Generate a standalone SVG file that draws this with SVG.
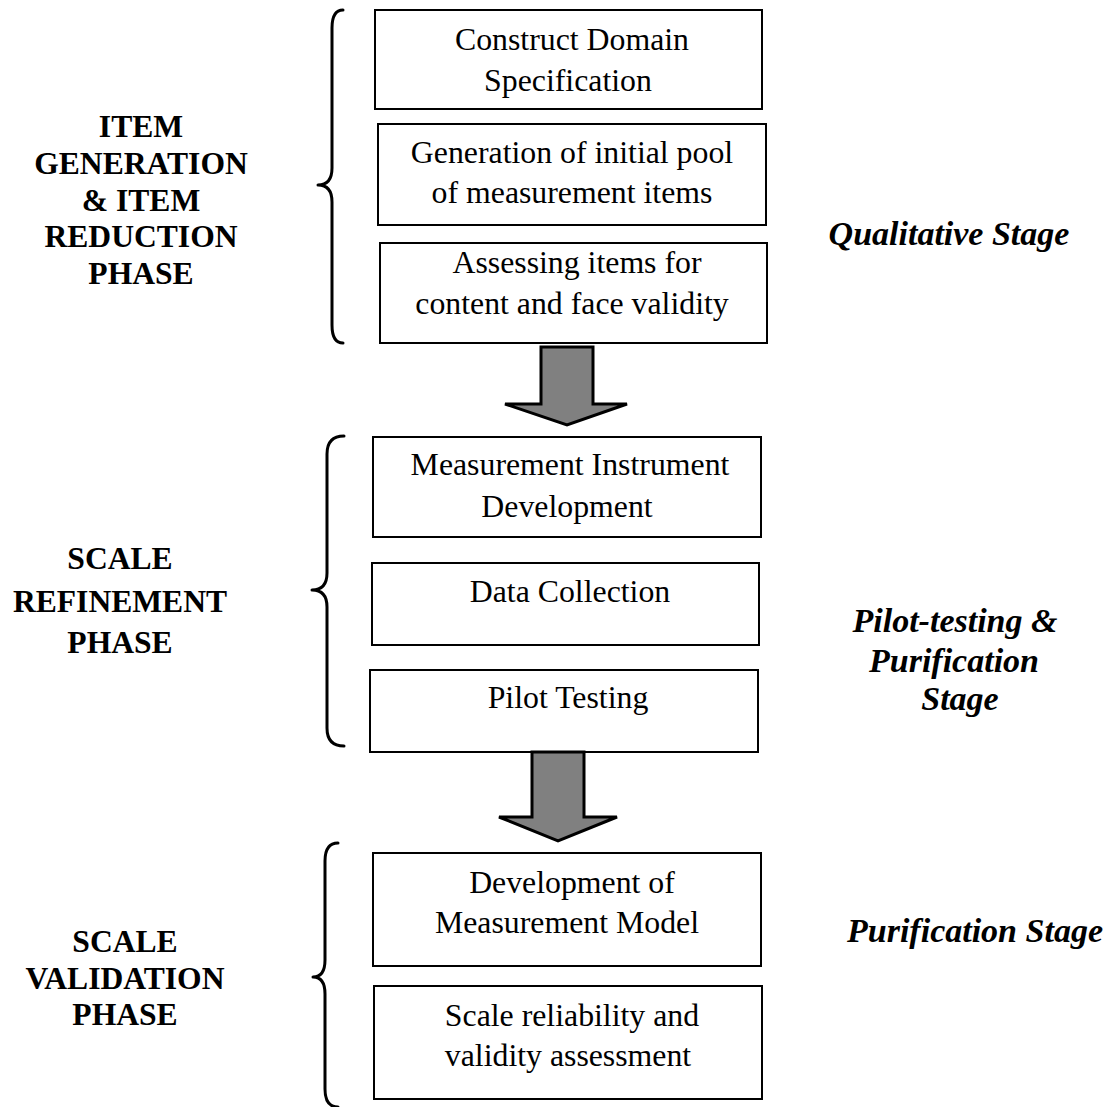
<svg xmlns="http://www.w3.org/2000/svg" width="1116" height="1107" viewBox="0 0 1116 1107">
  <style>
    .box { fill: #ffffff; stroke: #000000; stroke-width: 2; }
    .txt { font-family: "Liberation Serif", "Times New Roman", serif; font-size: 31.8px; fill: #000000; text-anchor: middle; }
    .phase { font-family: "Liberation Serif", "Times New Roman", serif; font-size: 31.6px; font-weight: bold; fill: #000000; text-anchor: middle; }
    .stage { font-family: "Liberation Serif", "Times New Roman", serif; font-size: 34px; font-weight: bold; font-style: italic; fill: #000000; text-anchor: middle; }
    .brace { fill: none; stroke: #000000; stroke-width: 3; stroke-linecap: round; stroke-linejoin: round; }
    .arrow { fill: #808080; stroke: #000000; stroke-width: 3; stroke-linejoin: miter; }
  </style>
  <rect width="1116" height="1107" fill="#ffffff"/>

  <!-- phase labels -->
  <g id="phase-item-generation">
    <text class="phase" x="141" y="137">ITEM</text>
    <text class="phase" x="141" y="174">GENERATION</text>
    <text class="phase" x="141" y="211">&amp; ITEM</text>
    <text class="phase" x="141" y="247">REDUCTION</text>
    <text class="phase" x="141" y="284">PHASE</text>
  </g>
  <g id="phase-scale-refinement">
    <text class="phase" x="120" y="569">SCALE</text>
    <text class="phase" x="120" y="612">REFINEMENT</text>
    <text class="phase" x="120" y="653">PHASE</text>
  </g>
  <g id="phase-scale-validation">
    <text class="phase" x="125" y="952">SCALE</text>
    <text class="phase" x="125" y="989">VALIDATION</text>
    <text class="phase" x="125" y="1025">PHASE</text>
  </g>

  <!-- curly braces grouping the steps of each phase -->
  <g id="braces">
    <path class="brace" d="M343,10 Q332,10 332,28 L332,168 Q332,185 318,185 Q332,185 332,202 L332,325 Q332,343 343,343"/>
    <path class="brace" d="M344,436 Q327,436 327,454 L327,573 Q327,590 312,590 Q327,590 327,607 L327,728 Q327,746 344,746"/>
    <path class="brace" d="M338,843 Q325,843 325,861 L325,960 Q325,977 313,977 Q325,977 325,994 L325,1089 Q325,1107 338,1107"/>
  </g>

  <!-- steps -->
  <g id="construct-domain">
    <rect class="box" x="375" y="10" width="387" height="99"/>
    <text class="txt" x="572" y="50">Construct Domain</text>
    <text class="txt" x="568" y="91">Specification</text>
  </g>
  <g id="initial-pool">
    <rect class="box" x="378" y="124" width="388" height="101"/>
    <text class="txt" x="572" y="163">Generation of initial pool</text>
    <text class="txt" x="572" y="203">of measurement items</text>
  </g>
  <g id="content-validity">
    <rect class="box" x="380" y="243" width="387" height="100"/>
    <text class="txt" x="577" y="273">Assessing items for</text>
    <text class="txt" x="572" y="314">content and face validity</text>
  </g>
  <g id="instrument-development">
    <rect class="box" x="373" y="437" width="388" height="100"/>
    <text class="txt" x="570" y="475">Measurement Instrument</text>
    <text class="txt" x="567" y="517">Development</text>
  </g>
  <g id="data-collection">
    <rect class="box" x="372" y="563" width="387" height="82"/>
    <text class="txt" x="570" y="602">Data Collection</text>
  </g>
  <g id="pilot-testing">
    <rect class="box" x="370" y="670" width="388" height="82"/>
    <text class="txt" x="568" y="708">Pilot Testing</text>
  </g>
  <g id="measurement-model">
    <rect class="box" x="373" y="853" width="388" height="113"/>
    <text class="txt" x="572" y="893">Development of</text>
    <text class="txt" x="567" y="933">Measurement Model</text>
  </g>
  <g id="reliability-validity">
    <rect class="box" x="374" y="986" width="388" height="113"/>
    <text class="txt" x="572" y="1026">Scale reliability and</text>
    <text class="txt" x="568" y="1066">validity assessment</text>
  </g>

  <!-- block arrows between phases -->
  <g id="connectors">
    <path class="arrow" d="M541,347 L593,347 L593,404 L627,404 L567,425 L505,404 L541,404 Z"/>
    <path class="arrow" d="M532,752 L584,752 L584,817 L617,817 L558,841 L499,817 L532,817 Z"/>
  </g>

  <!-- stage labels -->
  <g id="stage-qualitative">
    <text class="stage" x="949" y="245">Qualitative Stage</text>
  </g>
  <g id="stage-pilot-purification">
    <text class="stage" x="955" y="632">Pilot-testing &amp;</text>
    <text class="stage" x="954" y="672">Purification</text>
    <text class="stage" x="960" y="710">Stage</text>
  </g>
  <g id="stage-purification">
    <text class="stage" x="975" y="942">Purification Stage</text>
  </g>
</svg>
